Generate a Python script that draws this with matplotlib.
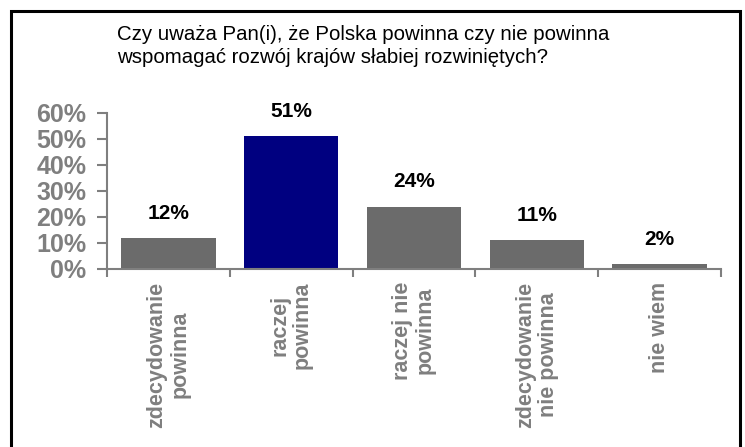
import matplotlib.pyplot as plt
from matplotlib.patches import Rectangle
from matplotlib.ticker import PercentFormatter

categories = ["zdecydowanie\npowinna", "raczej\npowinna", "raczej nie\npowinna",
              "zdecydowanie\nnie powinna", "nie wiem"]
values = [0.12, 0.51, 0.24, 0.11, 0.02]
value_labels = ["12%", "51%", "24%", "11%", "2%"]
bar_colors = ["#6b6b6b", "#000080", "#6b6b6b", "#6b6b6b", "#6b6b6b"]
title = ("Czy uważa Pan(i), że Polska powinna czy nie powinna\n"
         "wspomagać rozwój krajów słabiej rozwiniętych?")

plt.rcParams['font.family'] = ['Liberation Sans', 'DejaVu Sans']
gray = "#7f7f7f"

fig = plt.figure(figsize=(7.45, 4.47), dpi=100)

# black frame round the whole chart
fig.patches.append(Rectangle((11 / 745, -0.05), 729 / 745, 1.05 - 11 / 447,
                             transform=fig.transFigure, fill=False,
                             edgecolor="black", linewidth=2.2))

fig.text(117 / 745, 1 - 25 / 447, title, ha="left", va="top",
         fontsize=14.7, linespacing=1.25, color="black")

ax = fig.add_axes([107 / 745, 1 - 269 / 447, 614 / 745, 156 / 447])
x = list(range(len(categories)))
ax.bar(x, values, width=0.77, color=bar_colors)
ax.set_xlim(-0.5, len(categories) - 0.5)
ax.set_ylim(0, 0.6)

for xi, v, lab in zip(x, values, value_labels):
    ax.annotate(lab, (xi, v), xytext=(0, 11), textcoords="offset points",
                ha="center", va="bottom", fontsize=15, fontweight="bold",
                color="black")

ax.yaxis.set_major_formatter(PercentFormatter(1.0, decimals=0))
ax.set_yticks([0, 0.1, 0.2, 0.3, 0.4, 0.5, 0.6])
ax.tick_params(axis="y", colors=gray, labelsize=18, width=1.5, length=7, pad=8)
for t in ax.get_yticklabels():
    t.set_fontweight("bold")

ax.set_xticks(x)
ax.set_xticklabels(categories, rotation=90, ha="center", va="top",
                   multialignment="center", fontsize=15.5, fontweight="bold",
                   color=gray, linespacing=1.1)
ax.tick_params(axis="x", which="major", length=0, pad=9)
ax.set_xticks([i - 0.5 for i in range(len(categories) + 1)], minor=True)
ax.tick_params(axis="x", which="minor", length=6, width=1.5, colors=gray)

for side in ["top", "right"]:
    ax.spines[side].set_visible(False)
for side in ["left", "bottom"]:
    ax.spines[side].set_color(gray)
    ax.spines[side].set_linewidth(1.5)

fig.savefig("out.png", dpi=100)
